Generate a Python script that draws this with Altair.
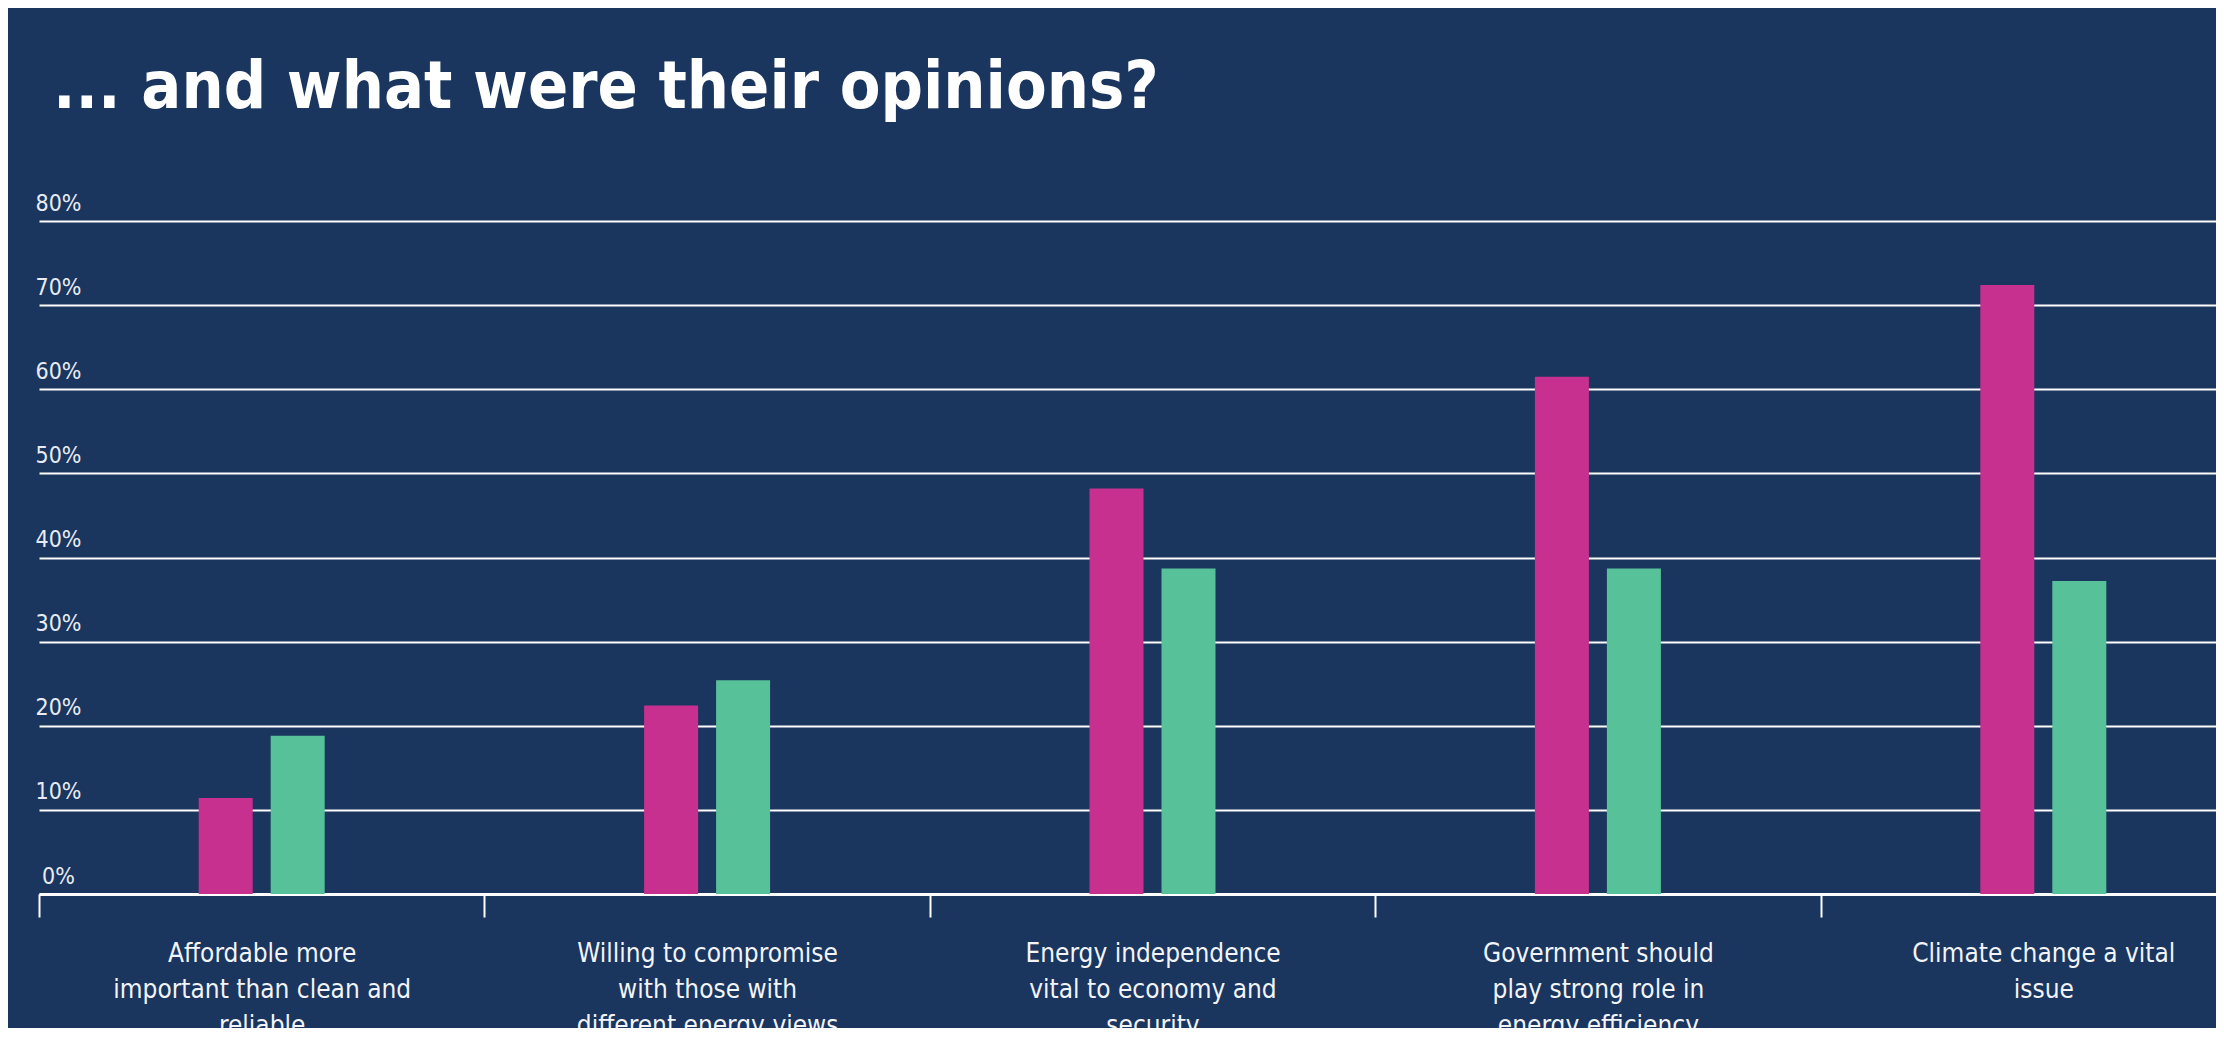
import altair as alt
import pandas as pd

categories = [
    "Affordable more important than clean and reliable",
    "Willing to compromise with those with different energy views",
    "Energy independence vital to economy and security",
    "Government should play strong role in energy efficiency",
    "Climate change a vital issue",
]
label_lines = [
    ["Affordable more", "important than clean and", "reliable"],
    ["Willing to compromise", "with those with", "different energy views"],
    ["Energy independence", "vital to economy and", "security"],
    ["Government should", "play strong role in", "energy efficiency"],
    ["Climate change a vital", "issue"],
]
series_names = ["Group A", "Group B"]
values_a = [11.4, 22.4, 48.2, 61.5, 72.4]
values_b = [18.8, 25.4, 38.7, 38.7, 37.2]
y_ticks = [0, 10, 20, 30, 40, 50, 60, 70, 80]

BG = "#1a355e"
PINK = "#c7308f"
GREEN = "#57c19a"
NARROW = "Liberation Sans Narrow, DejaVu Sans Condensed, Roboto Condensed, Arial Narrow, sans-serif"

rows = []
for c, a, b in zip(categories, values_a, values_b):
    rows.append({"category": c, "series": series_names[0], "value": a})
    rows.append({"category": c, "series": series_names[1], "value": b})
df = pd.DataFrame(rows)

def js_arr(lines):
    return "[" + ",".join("'" + l.replace("'", "\\'") + "'" for l in lines) + "]"

expr = "datum.label"
for c, lines in reversed(list(zip(categories, label_lines))):
    expr = f"datum.label == '{c}' ? {js_arr(lines)} : ({expr})"

chart = alt.Chart(df).mark_bar().encode(
    x=alt.X(
        "category:N",
        sort=categories,
        title=None,
        scale=alt.Scale(range=[0, 2227], paddingInner=0, paddingOuter=0),
        axis=alt.Axis(
            orient="bottom",
            tickBand="extent",
            ticks=True,
            tickSize=23,
            tickWidth=2,
            tickColor="#ffffff",
            domain=True,
            domainColor="#ffffff",
            domainWidth=3,
            grid=False,
            labelAngle=0,
            labelFont=NARROW,
            labelFontSize=26,
            labelColor="#f2f4f8",
            labelPadding=23,
            labelLineHeight=36,
            labelBaseline="top",
            labelExpr=expr,
            labelLimit=0,
        ),
    ),
    xOffset=alt.XOffset(
        "series:N",
        sort=series_names,
        scale=alt.Scale(domain=series_names, range=[159.7, 285.7], paddingInner=0.25, paddingOuter=0),
    ),
    y=alt.Y(
        "value:Q",
        title=None,
        scale=alt.Scale(domain=[0, 80], nice=False),
        axis=alt.Axis(
            values=y_ticks,
            orient="left",
            domain=False,
            ticks=False,
            tickSize=0,
            grid=True,
            gridColor="#ffffff",
            gridWidth=2,
            gridOpacity=1,
            labelExpr="datum.value + '%'",
            labelFont=NARROW,
            labelFontSize=23,
            labelColor="#e8ecf2",
            labelAlign="center",
            labelBaseline="alphabetic",
            labelPadding=-19,
            labelOffset=-11,
        ),
    ),
    color=alt.Color(
        "series:N",
        scale=alt.Scale(domain=series_names, range=[PINK, GREEN]),
        legend=None,
    ),
).properties(
    width=2177,
    height=673,
    autosize=alt.AutoSizeParams(type="none"),
    padding={"left": 31, "top": 213, "right": 0, "bottom": 134},
    background=BG,
    title=alt.TitleParams(
        "... and what were their opinions?",
        anchor="start",
        frame="group",
        font=NARROW,
        fontSize=66,
        fontWeight="bold",
        color="#ffffff",
        dx=14,
        offset=70,
    ),
).configure_view(stroke=None)

chart.save("out.html", embed_options={"renderer": "svg", "actions": False})
